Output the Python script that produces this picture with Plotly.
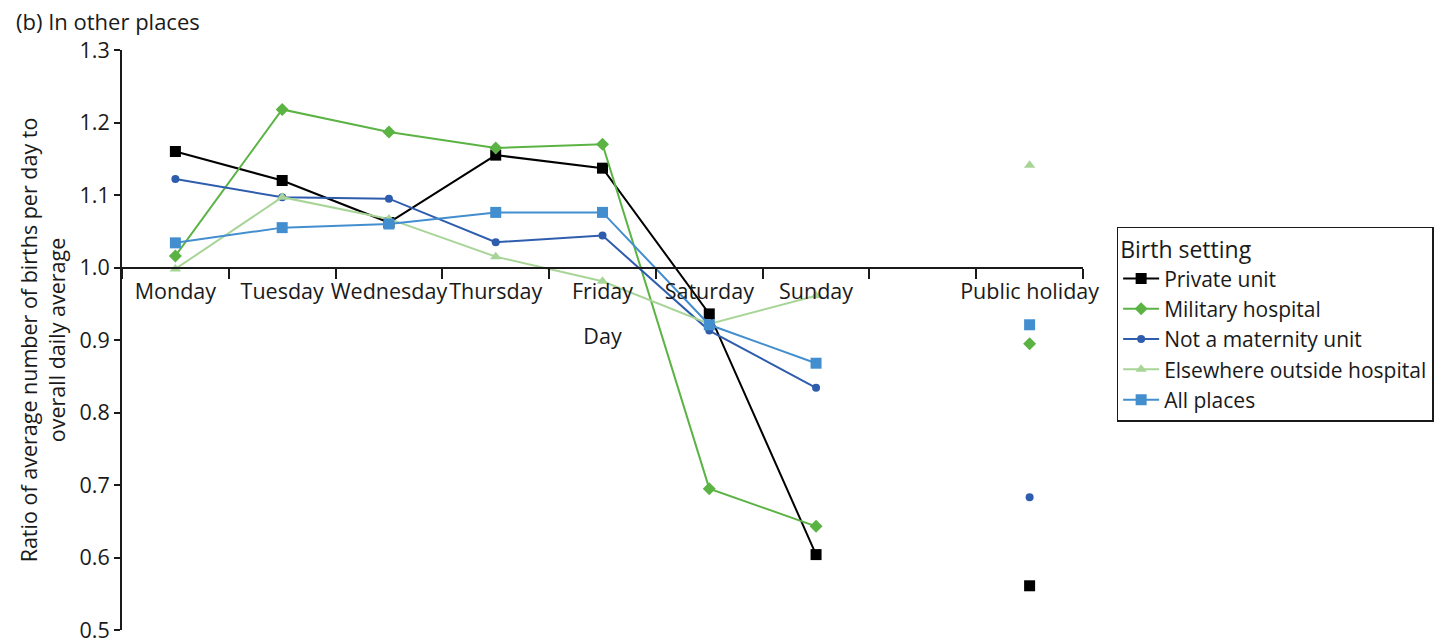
import plotly.graph_objects as go

days = ["Monday", "Tuesday", "Wednesday", "Thursday", "Friday", "Saturday", "Sunday", " ", "Public holiday"]

private_unit = [1.160, 1.120, 1.062, 1.155, 1.137, 0.936, 0.604, None, 0.561]
military_hospital = [1.016, 1.218, 1.187, 1.165, 1.170, 0.695, 0.643, None, 0.895]
not_maternity_unit = [1.122, 1.097, 1.095, 1.035, 1.044, 0.913, 0.834, None, 0.683]
elsewhere_outside = [0.998, 1.097, 1.067, 1.015, 0.981, 0.922, 0.961, None, 1.141]
all_places = [1.034, 1.055, 1.060, 1.076, 1.076, 0.921, 0.868, None, 0.921]

y_ticks = [0.5, 0.6, 0.7, 0.8, 0.9, 1.0, 1.1, 1.2, 1.3]

series = [
    ("Private unit", private_unit, "#000000", "square", 11),
    ("Military hospital", military_hospital, "#5BB344", "diamond", 10),
    ("Not a maternity unit", not_maternity_unit, "#2F5DAE", "circle", 8),
    ("Elsewhere outside hospital", elsewhere_outside, "#A8D597", "triangle-up", 10),
    ("All places", all_places, "#438ECF", "square", 11),
]

FONT = "Open Sans"
FS = 21.5
TXT = "#1a1a1a"

fig = go.Figure()
for name, vals, color, sym, size in series:
    fig.add_trace(go.Scatter(
        x=days, y=vals, name=name, mode="lines+markers",
        line=dict(color=color, width=2),
        marker=dict(symbol=sym, size=size, color=color),
        connectgaps=False,
    ))

ymin, ymax = 0.5, 1.3
fig.update_layout(
    width=1447, height=635,
    margin=dict(l=114, r=372, t=42, b=13),
    paper_bgcolor="white", plot_bgcolor="white",
    font=dict(family=FONT, size=FS, color=TXT),
    showlegend=True,
    legend=dict(
        title=dict(text="Birth setting", font=dict(size=23)),
        x=1.035, xanchor="left", y=0.695, yanchor="top",
        bordercolor=TXT, borderwidth=1.5, bgcolor="white",
        font=dict(size=21), tracegroupgap=0, itemwidth=36,
    ),
    xaxis=dict(
        type="category", categoryorder="array", categoryarray=days,
        range=[-0.5, len(days) - 0.5],
        anchor="free", position=(1.0 - ymin) / (ymax - ymin),
        showline=True, linecolor=TXT, linewidth=2,
        ticks="outside", tickson="boundaries", ticklen=10, tickwidth=2, tickcolor=TXT,
        showgrid=False, zeroline=False, tickangle=0, automargin=False,
        tickfont=dict(size=FS), ticklabelstandoff=5,
        title=dict(text="Day", font=dict(size=FS), standoff=24),
    ),
    yaxis=dict(
        range=[ymin, ymax], tickvals=y_ticks, ticktext=[f"{v:.1f}" for v in y_ticks],
        showline=True, linecolor=TXT, linewidth=2,
        ticks="outside", ticklen=6, tickwidth=2, tickcolor=TXT,
        showgrid=False, zeroline=False, automargin=False,
        tickfont=dict(size=FS), ticklabeloverflow="allow",
        title=dict(text="Ratio of average number of births per day to<br>overall daily average",
                   font=dict(size=FS), standoff=8),
    ),
    annotations=[dict(
        text="(b) In other places", xref="paper", yref="paper",
        x=-0.112, y=1.0, xanchor="left", yanchor="bottom", yshift=12,
        showarrow=False, font=dict(family=FONT, size=22, color=TXT),
    )],
)

fig.write_html("out.html")
